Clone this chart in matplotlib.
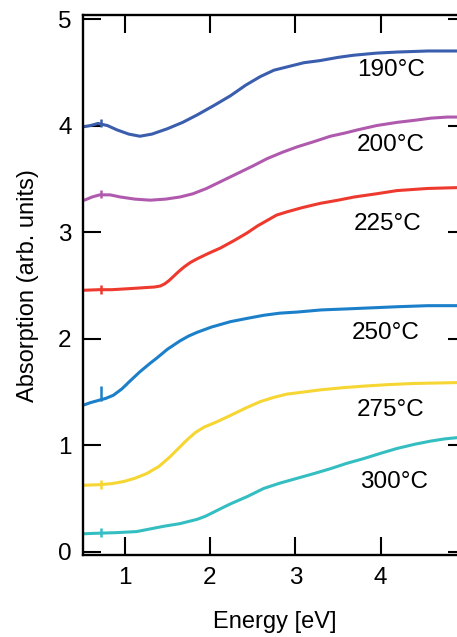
import matplotlib
matplotlib.use("Agg")
import matplotlib.pyplot as plt

plt.rcParams['font.family'] = ['Liberation Sans', 'DejaVu Sans']

labels = ["190°C", "200°C", "225°C", "250°C", "275°C", "300°C"]
colors = ["#3a5dae", "#b05aae", "#ee3a2e", "#1b7fc9", "#f6d633", "#35bec2"]

x190 = [0.53, 0.60, 0.69, 0.80, 0.91, 1.05, 1.18, 1.32, 1.50, 1.68, 1.85, 2.05, 2.24, 2.42, 2.59, 2.75, 2.90, 3.10, 3.29, 3.50, 3.68, 3.95, 4.19, 4.55, 5.0]
y190 = [3.99, 4.00, 4.02, 4.00, 3.96, 3.92, 3.90, 3.92, 3.97, 4.03, 4.10, 4.19, 4.28, 4.38, 4.46, 4.52, 4.55, 4.59, 4.61, 4.64, 4.66, 4.68, 4.69, 4.70, 4.70]

x200 = [0.53, 0.62, 0.71, 0.83, 0.95, 1.12, 1.30, 1.48, 1.65, 1.80, 1.96, 2.14, 2.32, 2.50, 2.67, 2.85, 3.02, 3.22, 3.41, 3.58, 3.73, 3.95, 4.19, 4.40, 4.59, 4.78, 5.0]
y200 = [3.30, 3.33, 3.35, 3.35, 3.33, 3.31, 3.30, 3.31, 3.33, 3.36, 3.41, 3.48, 3.55, 3.62, 3.69, 3.75, 3.80, 3.85, 3.90, 3.93, 3.96, 4.00, 4.03, 4.05, 4.07, 4.08, 4.08]

x225 = [0.53, 0.70, 0.85, 1.06, 1.25, 1.35, 1.42, 1.47, 1.52, 1.58, 1.64, 1.70, 1.77, 1.85, 1.98, 2.12, 2.28, 2.43, 2.56, 2.67, 2.78, 2.90, 3.08, 3.29, 3.50, 3.69, 3.95, 4.19, 4.55, 5.0]
y225 = [2.455, 2.46, 2.46, 2.47, 2.48, 2.485, 2.495, 2.515, 2.545, 2.59, 2.635, 2.675, 2.715, 2.75, 2.80, 2.85, 2.92, 2.99, 3.06, 3.11, 3.16, 3.19, 3.23, 3.27, 3.30, 3.33, 3.36, 3.39, 3.41, 3.42]

x250 = [0.53, 0.60, 0.69, 0.78, 0.87, 0.97, 1.06, 1.18, 1.30, 1.38, 1.50, 1.65, 1.75, 1.85, 2.02, 2.24, 2.43, 2.63, 2.82, 3.02, 3.30, 3.61, 3.90, 4.19, 4.55, 5.0]
y250 = [1.38, 1.40, 1.42, 1.44, 1.47, 1.53, 1.60, 1.69, 1.77, 1.82, 1.90, 1.98, 2.025, 2.06, 2.11, 2.16, 2.19, 2.22, 2.24, 2.25, 2.27, 2.28, 2.29, 2.30, 2.31, 2.31]

x275 = [0.53, 0.70, 0.85, 0.99, 1.12, 1.26, 1.40, 1.53, 1.63, 1.73, 1.83, 1.93, 2.08, 2.24, 2.42, 2.59, 2.75, 2.90, 3.10, 3.29, 3.55, 3.80, 4.10, 4.39, 4.70, 5.0]
y275 = [0.625, 0.63, 0.64, 0.66, 0.69, 0.735, 0.80, 0.89, 0.97, 1.05, 1.12, 1.17, 1.22, 1.28, 1.35, 1.41, 1.45, 1.48, 1.50, 1.52, 1.54, 1.555, 1.57, 1.58, 1.585, 1.59]

x300 = [0.53, 0.70, 0.90, 1.14, 1.30, 1.46, 1.65, 1.85, 1.95, 2.05, 2.15, 2.24, 2.44, 2.63, 2.82, 3.02, 3.22, 3.41, 3.60, 3.80, 4.00, 4.19, 4.40, 4.59, 4.75, 5.0]
y300 = [0.17, 0.175, 0.18, 0.19, 0.215, 0.24, 0.265, 0.305, 0.335, 0.375, 0.415, 0.45, 0.52, 0.595, 0.645, 0.69, 0.735, 0.78, 0.83, 0.875, 0.925, 0.97, 1.01, 1.04, 1.06, 1.08]

xs = [x190, x200, x225, x250, x275, x300]
ys = [y190, y200, y225, y250, y275, y300]

# small glitch near 0.72 eV on each trace
spike_x = 0.72
spike_lo = [3.99, 3.32, 2.42, 1.42, 0.59, 0.14]
spike_hi = [4.06, 3.40, 2.50, 1.56, 0.67, 0.22]

label_x = [4.12, 4.12, 4.08, 4.06, 4.12, 4.155]
label_y = [4.52, 3.815, 3.08, 2.05, 1.33, 0.657]

xticks = [1, 2, 3, 4]
yticks = [0, 1, 2, 3, 4, 5]

fig = plt.figure(figsize=(4.57, 6.37), dpi=100)
ax = fig.add_axes([0.181, 0.128, 0.839, 0.848])

for x, y, c in zip(xs, ys, colors):
    ax.plot(x, y, color=c, lw=2.2, solid_capstyle='round', solid_joinstyle='round')
for lo, hi, c in zip(spike_lo, spike_hi, colors):
    ax.vlines(spike_x, lo, hi, color=c, lw=1.8)
for lx, ly, t in zip(label_x, label_y, labels):
    ax.text(lx, ly, t, fontsize=17.5, ha='center', va='center', color='black')

ax.set_xlim(0.51, 5.0)
ax.set_ylim(-0.034, 5.035)
ax.set_xticks(xticks)
ax.set_yticks(yticks)
ax.tick_params(direction='in', length=13, width=1.5, top=True, right=True,
               labelsize=17.5, pad=8)
for s in ax.spines.values():
    s.set_linewidth(1.7)
ax.set_xlabel("Energy [eV]", fontsize=17, labelpad=16)
ax.set_ylabel("Absorption (arb. units)", fontsize=17, labelpad=14)

fig.savefig("out.png", dpi=100)
